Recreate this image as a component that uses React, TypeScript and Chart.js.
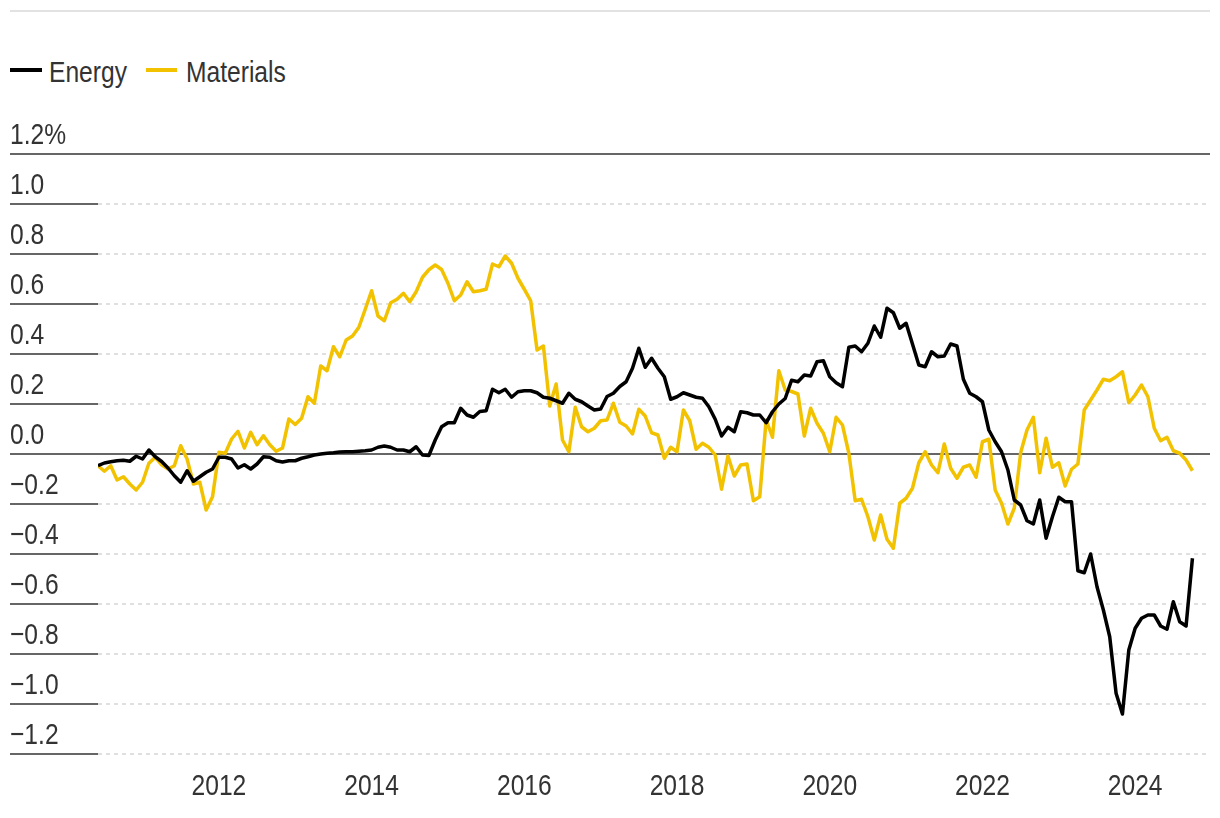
import React, { useEffect, useRef } from 'react';
import { Chart, registerables } from 'chart.js';

Chart.register(...registerables);

// Monthly series, June 2010 through October 2024
const START_YEAR = 2010;
const START_MONTH = 6;

const energy: number[] = [
  -0.047, -0.036, -0.031, -0.027, -0.025, -0.029, -0.009, -0.02, 0.016, -0.011,
  -0.03, -0.056, -0.087, -0.113, -0.067, -0.109, -0.091, -0.073, -0.06, -0.013,
  -0.013, -0.02, -0.056, -0.043, -0.06, -0.04, -0.011, -0.013, -0.027, -0.032,
  -0.027, -0.027, -0.017, -0.011, -0.004, 0.0, 0.003, 0.005, 0.008, 0.009,
  0.009, 0.011, 0.013, 0.016, 0.027, 0.032, 0.027, 0.016, 0.016, 0.009,
  0.029, -0.004, -0.006, 0.056, 0.109, 0.125, 0.125, 0.183, 0.156, 0.147,
  0.17, 0.173, 0.259, 0.245, 0.259, 0.227, 0.249, 0.253, 0.253, 0.245,
  0.227, 0.223, 0.213, 0.203, 0.243, 0.219, 0.209, 0.192, 0.176, 0.18,
  0.23, 0.243, 0.27, 0.289, 0.343, 0.423, 0.347, 0.383, 0.343, 0.309,
  0.219, 0.229, 0.245, 0.236, 0.227, 0.223, 0.189, 0.139, 0.072, 0.107,
  0.089, 0.169, 0.165, 0.156, 0.156, 0.125, 0.169, 0.2, 0.222, 0.295,
  0.289, 0.316, 0.312, 0.369, 0.373, 0.309, 0.285, 0.269, 0.427, 0.432,
  0.409, 0.443, 0.512, 0.467, 0.583, 0.565, 0.503, 0.523, 0.44, 0.356,
  0.349, 0.409, 0.389, 0.392, 0.44, 0.432, 0.299, 0.243, 0.229, 0.209,
  0.096, 0.049, 0.009, -0.064, -0.184, -0.204, -0.267, -0.28, -0.184, -0.337,
  -0.251, -0.173, -0.191, -0.191, -0.467, -0.475, -0.4, -0.531, -0.624, -0.731,
  -0.957, -1.04, -0.784, -0.697, -0.657, -0.644, -0.644, -0.688, -0.701, -0.591,
  -0.671, -0.688, -0.417,
];

const materials: number[] = [
  -0.047, -0.069, -0.047, -0.104, -0.091, -0.12, -0.144, -0.113, -0.037, -0.013,
  -0.043, -0.06, -0.047, 0.033, -0.02, -0.12, -0.113, -0.224, -0.171, 0.007,
  0.003, 0.06, 0.091, 0.024, 0.087, 0.037, 0.073, 0.037, 0.011, 0.024,
  0.14, 0.118, 0.143, 0.229, 0.203, 0.352, 0.333, 0.429, 0.389, 0.456,
  0.472, 0.507, 0.579, 0.653, 0.552, 0.533, 0.605, 0.619, 0.643, 0.609,
  0.649, 0.707, 0.737, 0.756, 0.738, 0.683, 0.613, 0.636, 0.689, 0.649,
  0.653, 0.659, 0.76, 0.749, 0.792, 0.763, 0.703, 0.659, 0.613, 0.416,
  0.432, 0.192, 0.28, 0.056, 0.009, 0.187, 0.109, 0.089, 0.103, 0.133,
  0.136, 0.203, 0.127, 0.112, 0.08, 0.179, 0.152, 0.085, 0.076, -0.017,
  0.027, 0.009, 0.176, 0.133, 0.019, 0.043, 0.027, -0.004, -0.141, -0.008,
  -0.088, -0.044, -0.04, -0.187, -0.171, 0.136, 0.067, 0.333, 0.256, 0.25,
  0.24, 0.072, 0.183, 0.123, 0.083, 0.009, 0.147, 0.116, 0.003, -0.187,
  -0.181, -0.251, -0.344, -0.244, -0.341, -0.377, -0.197, -0.177, -0.137, -0.035,
  0.009, -0.044, -0.075, 0.04, -0.057, -0.097, -0.053, -0.044, -0.093, 0.049,
  0.059, -0.144, -0.197, -0.28, -0.217, 0.005, 0.096, 0.147, -0.075, 0.063,
  -0.053, -0.035, -0.128, -0.061, -0.04, 0.176, 0.216, 0.256, 0.299, 0.293,
  0.309, 0.329, 0.205, 0.236, 0.276, 0.229, 0.103, 0.053, 0.067, 0.013,
  0.003, -0.024, -0.067,
];

const xTickYears: number[] = [2012, 2014, 2016, 2018, 2020, 2022, 2024];
const seriesNames: string[] = ['Energy', 'Materials'];
const seriesColors: string[] = ['#000000', '#f2c200'];

const Y_MIN = -1.2;
const Y_MAX = 1.2;
const Y_STEP = 0.2;
const X_MAX = 2024.98;

const FONT = "'Liberation Sans', Arial, sans-serif";
const TEXT = '#333333';
const SQUEEZE = 0.82; // condensed look

const monthX = (i: number) => START_YEAR + (START_MONTH - 1 + i) / 12;

const fmtY = (v: number) => {
  let s = Math.abs(v).toFixed(1);
  if (v < -1e-9) s = '\u2212' + s;
  if (v > Y_MAX - 1e-6) s += '%';
  return s;
};

// Draws the tick labels of the library's scales in a condensed (horizontally squeezed) face
const condensedLabels = {
  id: 'condensedLabels',
  afterDraw(chart: any) {
    const ctx = chart.ctx as CanvasRenderingContext2D;
    const ys = chart.scales.y;
    const xs = chart.scales.x;
    ctx.save();
    ctx.fillStyle = TEXT;
    ctx.font = `30px ${FONT}`;
    ctx.textBaseline = 'alphabetic';
    ys.ticks.forEach((t: any) => {
      const py = ys.getPixelForValue(t.value);
      ctx.save();
      ctx.translate(ys.left, py - 10);
      ctx.scale(SQUEEZE, 1);
      ctx.textAlign = 'left';
      ctx.fillText(fmtY(t.value), 0, 0);
      ctx.restore();
    });
    xs.ticks.forEach((t: any) => {
      const px = xs.getPixelForValue(t.value);
      ctx.save();
      ctx.translate(px, xs.top + 41);
      ctx.scale(SQUEEZE, 1);
      ctx.textAlign = 'center';
      ctx.fillText(String(t.value), 0, 0);
      ctx.restore();
    });
    ctx.restore();
  },
};

export default function App() {
  const canvasRef = useRef<HTMLCanvasElement | null>(null);

  useEffect(() => {
    const canvas = canvasRef.current;
    if (!canvas) return;
    const toPoints = (arr: number[]) => arr.map((v, i) => ({ x: monthX(i), y: v }));
    const isSolid = (v: number) => Math.abs(v) < 1e-9 || v > Y_MAX - 1e-6;

    const chart = new Chart(canvas, {
      type: 'line',
      data: {
        datasets: [
          {
            label: seriesNames[0],
            data: toPoints(energy),
            borderColor: seriesColors[0],
            backgroundColor: seriesColors[0],
            borderWidth: 3.5,
            pointRadius: 0,
            tension: 0,
            borderJoinStyle: 'round',
          },
          {
            label: seriesNames[1],
            data: toPoints(materials),
            borderColor: seriesColors[1],
            backgroundColor: seriesColors[1],
            borderWidth: 3.5,
            pointRadius: 0,
            tension: 0,
            borderJoinStyle: 'round',
          },
        ],
      },
      options: {
        animation: false,
        responsive: false,
        maintainAspectRatio: false,
        events: [],
        layout: { padding: { left: 10, right: 10, top: 154, bottom: 0 } },
        plugins: {
          legend: { display: false },
          tooltip: { enabled: false },
        },
        scales: {
          x: {
            type: 'linear',
            min: monthX(0),
            max: X_MAX,
            grid: { display: false, drawTicks: false },
            border: { display: false },
            afterBuildTicks: (scale: any) => {
              scale.ticks = xTickYears.map((v) => ({ value: v }));
            },
            afterFit: (scale: any) => {
              scale.height = 64;
            },
            ticks: { display: false },
          },
          y: {
            type: 'linear',
            min: Y_MIN,
            max: Y_MAX,
            afterFit: (scale: any) => {
              scale.width = 88;
            },
            ticks: { stepSize: Y_STEP, display: false },
            grid: {
              color: (ctx: any) => (isSolid(ctx.tick.value) ? '#666666' : '#e0e0e0'),
              lineWidth: 2,
              drawTicks: true,
              tickLength: 88,
              tickColor: '#666666',
              tickWidth: 2,
              tickBorderDash: [],
            },
            border: {
              display: false,
              dash: (ctx: any) => (isSolid(ctx.tick.value) ? [] : [4, 4]),
            },
          },
        },
      },
      plugins: [condensedLabels],
    } as any);

    return () => {
      chart.destroy();
    };
  }, []);

  const legendText: React.CSSProperties = {
    position: 'absolute',
    top: 57,
    fontFamily: FONT,
    fontSize: 30,
    lineHeight: '30px',
    color: TEXT,
    whiteSpace: 'nowrap',
    transform: `scaleX(${SQUEEZE})`,
    transformOrigin: 'left center',
  };
  const swatch: React.CSSProperties = {
    position: 'absolute',
    top: 68,
    width: 32,
    height: 4,
  };

  return (
    <div style={{ position: 'fixed', left: 0, top: 0, width: 1220, height: 818, background: '#ffffff' }}>
      <div style={{ position: 'absolute', left: 10, top: 10, width: 1200, height: 2, background: '#e2e2e2' }} />
      <div style={{ ...swatch, left: 10, background: seriesColors[0] }} />
      <div style={{ ...legendText, left: 49 }}>{seriesNames[0]}</div>
      <div style={{ ...swatch, left: 146, width: 31, background: seriesColors[1] }} />
      <div style={{ ...legendText, left: 186 }}>{seriesNames[1]}</div>
      <canvas
        ref={canvasRef}
        width={1220}
        height={818}
        style={{ position: 'absolute', left: 0, top: 0, width: 1220, height: 818, display: 'block' }}
      />
    </div>
  );
}
